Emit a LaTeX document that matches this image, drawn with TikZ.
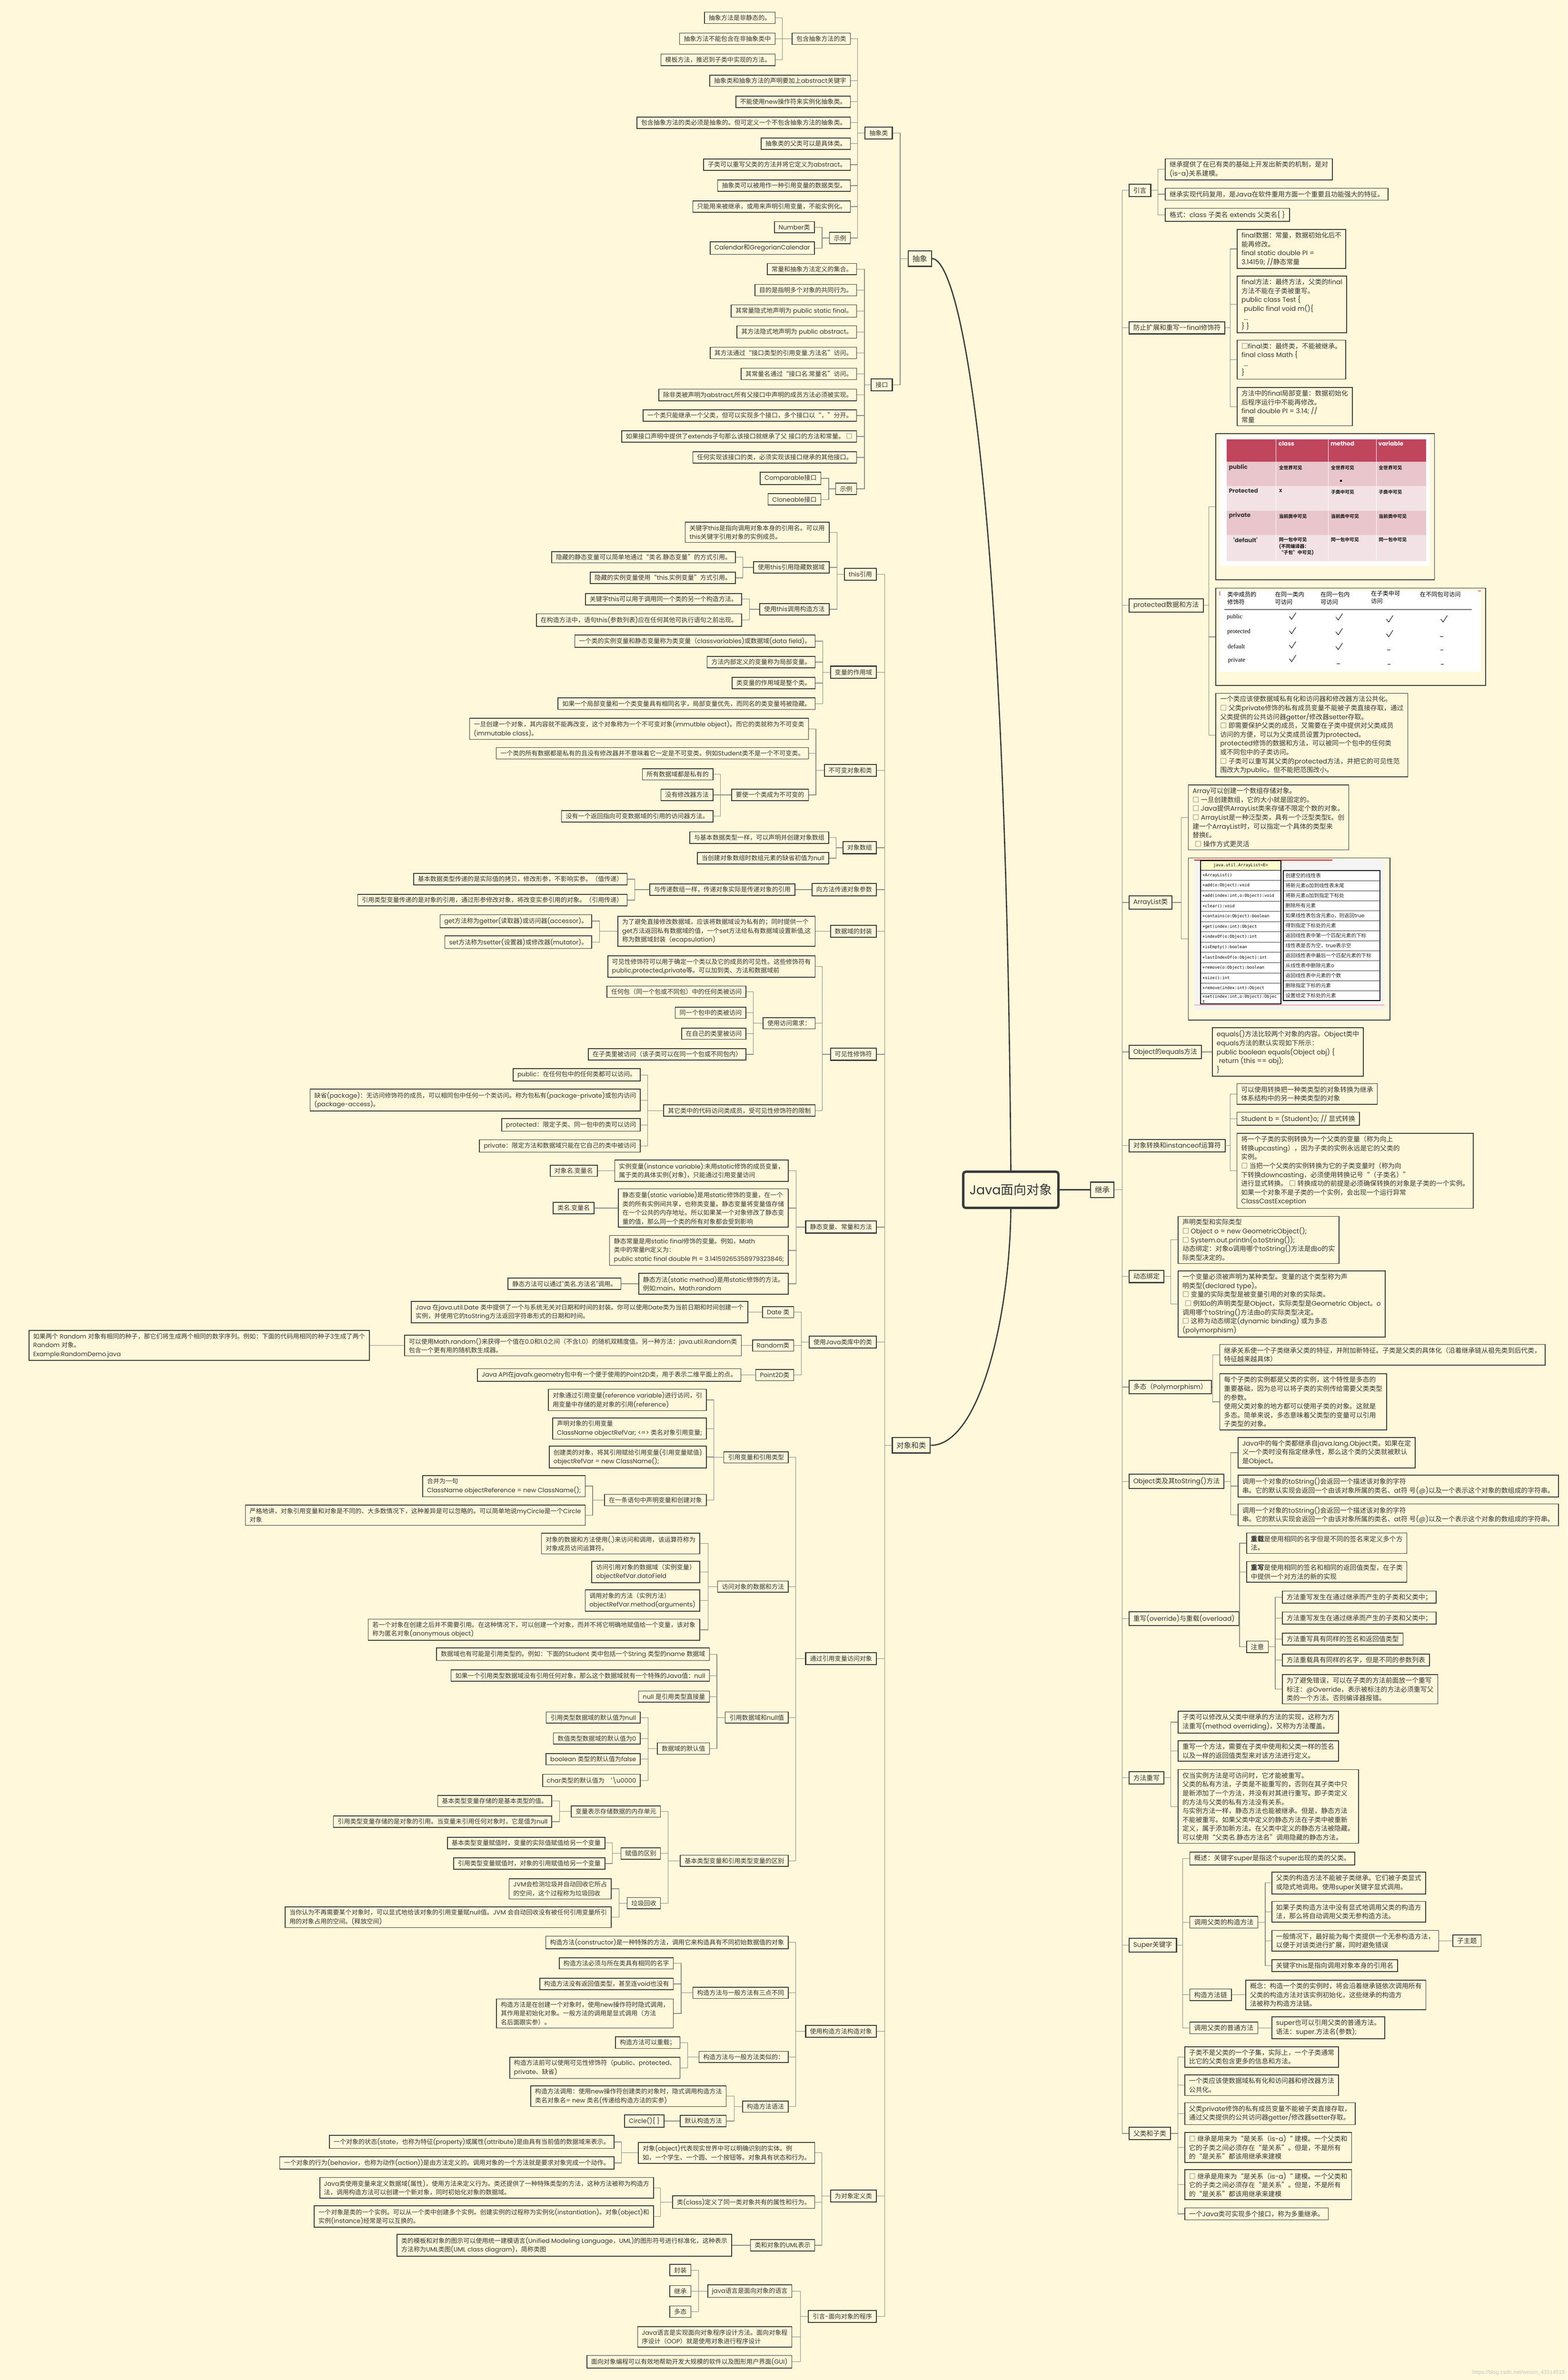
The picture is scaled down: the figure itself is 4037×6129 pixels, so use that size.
\documentclass[tikz,border=0pt]{standalone}
\usepackage{fontspec}
\setmainfont{Poppins}
\newfontfamily\cjkf{Noto Sans CJK SC}
\newfontfamily\latf{Poppins}
\newfontfamily\monof{DejaVu Sans Mono}
\newfontfamily\serf{Liberation Serif}
\newfontfamily\wmf{Liberation Sans}
\XeTeXinterchartokenstate=1
\newXeTeXintercharclass\cjkc
\newcount\mycnt
\mycnt="2E80
\loop
  \XeTeXcharclass\mycnt=\cjkc
  \advance\mycnt by 1
\ifnum\mycnt<"A000 \repeat
\mycnt="FF00
\loop
  \XeTeXcharclass\mycnt=\cjkc
  \advance\mycnt by 1
\ifnum\mycnt<"FFF0 \repeat
\XeTeXcharclass"25A1=\cjkc
\XeTeXcharclass"2018=\cjkc
\XeTeXcharclass"2019=\cjkc
\XeTeXcharclass"201C=\cjkc
\XeTeXcharclass"201D=\cjkc
\XeTeXinterchartoks 0 \cjkc = {\cjkf}
\XeTeXinterchartoks 4095 \cjkc = {\cjkf}
\XeTeXinterchartoks \cjkc 0 = {\latf}
\XeTeXinterchartoks \cjkc 4095 = {\latf}
\definecolor{bgc}{HTML}{FFF8DA}
\definecolor{boxc}{HTML}{3D3D3D}
\definecolor{txtc}{HTML}{363636}
\definecolor{cnc}{HTML}{8A8A8A}
\definecolor{mainc}{HTML}{3A3A3A}
\definecolor{rosec}{HTML}{C0455D}
\definecolor{pinka}{HTML}{E8C6CC}
\definecolor{pinkb}{HTML}{F3E2E5}
\definecolor{paleyel}{HTML}{FFFFCC}
\definecolor{imgbg}{HTML}{F4F4F4}
\tikzset{
  bx/.style={draw=boxc,line width=1pt,text=txtc,inner xsep=5.5pt,inner ysep=3.6pt,align=left,font=\fontsize{8}{11.3}\selectfont},
  lf/.style={bx,anchor=east},
  rf/.style={bx,anchor=west,font=\fontsize{8.5}{11.4}\selectfont},
  md/.style={line width=1.3pt,inner ysep=4pt},
  top/.style={line width=1.4pt,inner ysep=5.5pt,font=\fontsize{9.5}{11}\selectfont},
  cn/.style={draw=cnc,line width=0.75pt},
  mainln/.style={draw=mainc,line width=1.6pt},
  cell/.style={inner sep=0pt,anchor=north west,align=left},
}
\newcommand{\mLN}[5][]{\node[lf,#1] (#2) at (#3,#4) {#5};}
\newcommand{\mRN}[5][]{\node[rf,#1] (#2) at (#3,#4) {#5};}
\newcommand{\mLC}[3]{\draw[cn] (#1.west) -- (#3,0 |- #1.west) |- (#2.east);}
\newcommand{\mRC}[3]{\draw[cn] (#1.east) -- (#3,0 |- #1.east) |- (#2.west);}
\newcommand{\mchk}[2]{\draw[black,line width=0.6pt,shift={(#1,#2)}] (-8,-1) -- (-2,7) -- (9,-10);}
\newcommand{\mdash}[2]{\draw[black,line width=0.5pt,shift={(#1,#2)}] (-4,9) -- (4,9);}
\begin{document}
\begin{tikzpicture}[x=0.5pt,y=-0.5pt]
\useasboundingbox (0,0) rectangle (4037,6129);
\fill[bgc] (0,0) rectangle (4037,6129);

% ---------- main nodes
\node[draw=mainc,line width=3pt,rounded corners=3pt,text=txtc,font=\fontsize{16.5}{20}\selectfont,minimum width=122.5pt,minimum height=46.5pt,inner sep=2pt] (root) at (2603,3064) {Java面向对象};
\node[bx,top,anchor=east] (cx) at (2400,666) {抽象};
\node[bx,top,anchor=east] (dx) at (2397,3722) {对象和类};
\node[bx,top,anchor=west] (jc) at (2807,3064) {继承};
\draw[mainln] (cx.east) .. controls (2470,666) and (2590,1200) .. (root.north);
\draw[mainln] (root.south) .. controls (2600,3400) and (2520,3722) .. (dx.east);
\draw[mainln] (root.east) -- (jc.west);

% ---------- 抽象
\mLN[md]{cxl}{2299}{343}{抽象类}
\mLN[md]{jk}{2299}{991}{接口}
\mLC{cx}{cxl}{2318} \mLC{cx}{jk}{2318}
\mLN{a1}{2191}{100}{包含抽象方法的类}
\mLN{a1a}{1997}{46}{抽象方法是非静态的。}
\mLN{a1b}{1997}{100}{抽象方法不能包含在非抽象类中}
\mLN{a1c}{1997}{154}{模板方法，推迟到子类中实现的方法。}
\mLN{a2}{2191}{208}{抽象类和抽象方法的声明要加上abstract关键字}
\mLN{a3}{2191}{262}{不能使用new操作符来实例化抽象类。}
\mLN{a4}{2191}{316}{包含抽象方法的类必须是抽象的。但可定义一个不包含抽象方法的抽象类。}
\mLN{a5}{2191}{370}{抽象类的父类可以是具体类。}
\mLN{a6}{2191}{424}{子类可以重写父类的方法并将它定义为abstract。}
\mLN{a7}{2191}{478}{抽象类可以被用作一种引用变量的数据类型。}
\mLN{a8}{2191}{532}{只能用来被继承，或用来声明引用变量，不能实例化。}
\mLN{a9}{2191}{613}{示例}
\mLN{a9a}{2098}{585}{Number类}
\mLN{a9b}{2098}{639}{Calendar和GregorianCalendar}
\foreach \c in {a1,a2,a3,a4,a5,a6,a7,a8,a9} {\mLC{cxl}{\c}{2208}}
\foreach \c in {a1a,a1b,a1c} {\mLC{a1}{\c}{2015}}
\mLC{a9}{a9a}{2117} \mLC{a9}{a9b}{2117}

\mLN{j1}{2207}{693}{常量和抽象方法定义的集合。}
\mLN{j2}{2207}{747}{目的是指明多个对象的共同行为。}
\mLN{j3}{2207}{801}{其常量隐式地声明为 public static final。}
\mLN{j4}{2207}{855}{其方法隐式地声明为 public abstract。}
\mLN{j5}{2207}{909}{其方法通过“接口类型的引用变量.方法名”访问。}
\mLN{j6}{2207}{963}{其常量名通过“接口名.常量名”访问。}
\mLN{j7}{2207}{1017}{除非类被声明为abstract,所有父接口中声明的成员方法必须被实现。}
\mLN{j8}{2207}{1070}{一个类只能继承一个父类，但可以实现多个接口，多个接口以“，”分开。}
\mLN{j9}{2207}{1124}{如果接口声明中提供了extends子句那么该接口就继承了父 接口的方法和常量。 □}
\mLN{j10}{2207}{1178}{任何实现该接口的类，必须实现该接口继承的其他接口。}
\mLN{j11}{2207}{1259}{示例}
\mLN{j11a}{2115}{1232}{Comparable接口}
\mLN{j11b}{2115}{1286}{Cloneable接口}
\foreach \c in {j1,j2,j3,j4,j5,j6,j7,j8,j9,j10,j11} {\mLC{jk}{\c}{2226}}
\mLC{j11}{j11a}{2134} \mLC{j11}{j11b}{2134}

% ---------- 对象和类
\mLN[md]{o1}{2258}{1479}{this引用}
\mLN[md]{o2}{2258}{1731}{变量的作用域}
\mLN[md]{o3}{2258}{1984}{不可变对象和类}
\mLN[md]{o4}{2258}{2183}{对象数组}
\mLN[md]{o5}{2258}{2291}{向方法传递对象参数}
\mLN[md]{o6}{2258}{2398}{数据域的封装}
\mLN[md]{o7}{2258}{2715}{可见性修饰符}
\mLN[md]{o8}{2258}{3160}{静态变量、常量和方法}
\mLN[md]{o9}{2258}{3456}{使用Java类库中的类}
\mLN[md]{o10}{2258}{4271}{通过引用变量访问对象}
\mLN[md]{o11}{2258}{5231}{使用构造方法构造对象}
\mLN[md]{o12}{2258}{5655}{为对象定义类}
\mLN[md]{o13}{2258}{5965}{引言-面向对象的程序}
\foreach \c in {o1,o2,o3,o4,o5,o6,o7,o8,o9,o10,o11,o12,o13} {\mLC{dx}{\c}{2278}}

\mLN{o1a}{2136}{1371}{关键字this是指向调用对象本身的引用名。可以用\\this关键字引用对象的实例成员。}
\mLN{o1b}{2136}{1461}{使用this引用隐藏数据域}
\mLN{o1b1}{1895}{1435}{隐藏的静态变量可以简单地通过“类名.静态变量”的方式引用。}
\mLN{o1b2}{1895}{1488}{隐藏的实例变量使用“this.实例变量”方式引用。}
\mLN{o1c}{2136}{1569}{使用this调用构造方法}
\mLN{o1c1}{1911}{1543}{关键字this可以用于调用同一个类的另一个构造方法。}
\mLN{o1c2}{1911}{1597}{在构造方法中，语句this(参数列表)应在任何其他可执行语句之前出现。}
\foreach \c in {o1a,o1b,o1c} {\mLC{o1}{\c}{2156}}
\mLC{o1b}{o1b1}{1913} \mLC{o1b}{o1b2}{1913}
\mLC{o1c}{o1c1}{1930} \mLC{o1c}{o1c2}{1930}

\mLN{o2a}{2100}{1651}{一个类的实例变量和静态变量称为类变量（classvariables)或数据域(data field)。}
\mLN{o2b}{2100}{1705}{方法内部定义的变量称为局部变量。}
\mLN{o2c}{2100}{1759}{类变量的作用域是整个类。}
\mLN{o2d}{2100}{1812}{如果一个局部变量和一个类变量具有相同名字，局部变量优先，而同名的类变量将被隐藏。}
\foreach \c in {o2a,o2b,o2c,o2d} {\mLC{o2}{\c}{2119}}

\mLN{o3a}{2083}{1877}{一旦创建一个对象，其内容就不能再改变，这个对象称为一个不可变对象(immutble object)。而它的类就称为不可变类\\(immutable class)。}
\mLN{o3b}{2083}{1940}{一个类的所有数据都是私有的且没有修改器并不意味着它一定是不可变类。例如Student类不是一个不可变类。}
\mLN{o3c}{2083}{2047}{要使一个类成为不可变的}
\mLN{o3c1}{1837}{1994}{所有数据域都是私有的}
\mLN{o3c2}{1837}{2047}{没有修改器方法}
\mLN{o3c3}{1837}{2102}{没有一个返回指向可变数据域的引用的访问器方法。}
\foreach \c in {o3a,o3b,o3c} {\mLC{o3}{\c}{2101}}
\foreach \c in {o3c1,o3c2,o3c3} {\mLC{o3c}{\c}{1855}}

\mLN{o4a}{2135}{2157}{与基本数据类型一样，可以声明并创建对象数组}
\mLN{o4b}{2135}{2210}{当创建对象数组时数组元素的缺省初值为null}
\mLC{o4}{o4a}{2153} \mLC{o4}{o4b}{2153}

\mLN{o5a}{2048}{2291}{与传递数组一样，传递对象实际是传递对象的引用}
\mLN{o5a1}{1616}{2264}{基本数据类型传递的是实际值的拷贝，修改形参，不影响实参。（值传递）}
\mLN{o5a2}{1616}{2318}{引用类型变量传递的是对象的引用，通过形参修改对象，将改变实参引用的对象。（引用传递）}
\draw[cn] (o5.west) -- (o5a.east);
\mLC{o5a}{o5a1}{1635} \mLC{o5a}{o5a2}{1635}

\mLN{o6a}{2100}{2398}{为了避免直接修改数据域，应该将数据域设为私有的；同时提供一个\\get方法返回私有数据域的值，一个set方法给私有数据域设置新值,这\\称为数据域封装（ecapsulation)}
\mLN{o6a1}{1525}{2372}{get方法称为getter(读取器)或访问器(accessor)。}
\mLN{o6a2}{1525}{2426}{set方法称为setter(设置器)或修改器(mutator)。}
\draw[cn] (o6.west) -- (o6a.east);
\mLC{o6a}{o6a1}{1544} \mLC{o6a}{o6a2}{1544}

\mLN{o7a}{2100}{2489}{可见性修饰符可以用于确定一个类以及它的成员的可见性。这些修饰符有\\public,protected,private等。可以加到类、方法和数据域前}
\mLN{o7b}{2100}{2635}{使用访问需求：}
\mLN{o7b1}{1922}{2554}{任何包（同一个包或不同包）中的任何类被访问}
\mLN{o7b2}{1922}{2608}{同一个包中的类被访问}
\mLN{o7b3}{1922}{2662}{在自己的类里被访问}
\mLN{o7b4}{1922}{2715}{在子类里被访问（该子类可以在同一个包或不同包内）}
\mLN{o7c}{2100}{2860}{其它类中的代码访问类成员，受可见性修饰符的限制}
\mLN{o7c1}{1650}{2768}{public：在任何包中的任何类都可以访问。}
\mLN{o7c2}{1650}{2833}{缺省(package)：无访问修饰符的成员，可以相同包中任何一个类访问。称为包私有(package-private)或包内访问\\(package-access)。}
\mLN{o7c3}{1650}{2897}{protected：限定子类、同一包中的类可以访问}
\mLN{o7c4}{1650}{2951}{private：限定方法和数据域只能在它自己的类中被访问}
\foreach \c in {o7a,o7b,o7c} {\mLC{o7}{\c}{2118}}
\foreach \c in {o7b1,o7b2,o7b3,o7b4} {\mLC{o7b}{\c}{1940}}
\foreach \c in {o7c1,o7c2,o7c3,o7c4} {\mLC{o7c}{\c}{1668}}

\mLN{o8a}{2031}{3015}{实例变量(instance variable):未用static修饰的成员变量，\\属于类的具体实例(对象)，只能通过引用变量访问}
\mLN{o8a1}{1539}{3015}{对象名.变量名}
\mLN{o8b}{2031}{3111}{静态变量(static variable)是用static修饰的变量，在一个\\类的所有实例间共享，也称类变量。静态变量将变量值存储\\在一个公共的内存地址。所以如果某一个对象修改了静态变\\量的值，那么同一个类的所有对象都会受到影响}
\mLN{o8b1}{1531}{3111}{类名.变量名}
\mLN{o8c}{2031}{3220}{静态常量是用static final修饰的变量。例如，Math\\类中的常量PI定义为：\\public static final double PI = 3.14159265358979323846;}
\mLN{o8d}{2031}{3306}{静态方法(static method)是用static修饰的方法。\\例如:main，Math.random}
\mLN{o8d1}{1600}{3306}{静态方法可以通过"类名.方法名"调用。}
\foreach \c in {o8a,o8b,o8c,o8d} {\mLC{o8}{\c}{2050}}
\draw[cn] (o8a.west) -- (o8a1.east);
\draw[cn] (o8b.west) -- (o8b1.east);
\draw[cn] (o8d.west) -- (o8d1.east);

\mLN{o9a}{2045}{3379}{Date 类}
\mLN{o9a1}{1927}{3379}{Java 在java.util.Date 类中提供了一个与系统无关对日期和时间的封装。你可以使用Date类为当前日期和时间创建一个\\实例，并使用它的toString方法返回字符串形式的日期和时间。}
\mLN{o9b}{2045}{3465}{Random类}
\mLN{o9b1}{1910}{3465}{可以使用Math.random()来获得一个值在0.0和1.0之间（不含1.0）的随机双精度值。另一种方法：java.util.Random类\\包含一个更有用的随机数生成器。}
\mLN{o9b2}{952}{3465}{如果两个 Random 对象有相同的种子，那它们将生成两个相同的数字序列。例如：下面的代码用相同的种子3生成了两个\\Random 对象。\\Example:RandomDemo.java}
\mLN{o9c}{2045}{3541}{Point2D类}
\mLN{o9c1}{1909}{3541}{Java API在javafx.geometry包中有一个便于使用的Point2D类，用于表示二维平面上的点。}
\foreach \c in {o9a,o9b,o9c} {\mLC{o9}{\c}{2064}}
\draw[cn] (o9a.west) -- (o9a1.east);
\draw[cn] (o9b.west) -- (o9b1.east);
\draw[cn] (o9b1.west) -- (o9b2.east);
\draw[cn] (o9c.west) -- (o9c1.east);

\mLN{o10a}{2031}{3753}{引用变量和引用类型}
\mLN{o10a1}{1820}{3605}{对象通过引用变量(reference variable)进行访问，引\\用变量中存储的是对象的引用(reference)}
\mLN{o10a2}{1820}{3679}{声明对象的引用变量\\ClassName objectRefVar; <=> 类名对象引用变量;}
\mLN{o10a3}{1820}{3752}{创建类的对象，将其引用赋给引用变量(引用变量赋值)\\objectRefVar = new ClassName();}
\mLN{o10a4}{1820}{3863}{在一条语句中声明变量和创建对象}
\mLN{o10a4a}{1508}{3827}{合并为一句\\ClassName objectReference = new ClassName();}
\mLN{o10a4b}{1508}{3902}{严格地讲，对象引用变量和对象是不同的、大多数情况下，这种差异是可以忽略的。可以简单地说myCircle是一个Circle\\对象}
\mLN{o10b}{2031}{4086}{访问对象的数据和方法}
\mLN{o10b1}{1803}{3975}{对象的数据和方法使用(.)来访问和调用，该运算符称为\\对象成员访问运算符。}
\mLN{o10b2}{1803}{4048}{访问引用对象的数据域（实例变量）\\objectRefVar.dataField}
\mLN{o10b3}{1803}{4122}{调用对象的方法（实例方法）\\objectRefVar.method(arguments)}
\mLN{o10b4}{1803}{4197}{若一个对象在创建之后并不需要引用。在这种情况下，可以创建一个对象，而并不将它明确地赋值给一个变量，该对象\\称为匿名对象(anonymous object)}
\mLN{o10c}{2031}{4423}{引用数据域和null值}
\mLN{o10c1}{1828}{4260}{数据域也有可能是引用类型的。例如：下面的Student 类中包括一个String 类型的name 数据域}
\mLN{o10c2}{1828}{4315}{如果一个引用类型数据域没有引用任何对象，那么这个数据域就有一个特殊的Java值：null}
\mLN{o10c3}{1828}{4369}{null 是引用类型直接量}
\mLN{o10c4}{1828}{4503}{数据域的默认值}
\mLN{o10c4a}{1650}{4423}{引用类型数据域的默认值为null}
\mLN{o10c4b}{1650}{4477}{数值类型数据域的默认值为0}
\mLN{o10c4c}{1650}{4530}{boolean 类型的默认值为false}
\mLN{o10c4d}{1650}{4585}{char类型的默认值为 ‘\textbackslash u0000}
\mLN{o10d}{2031}{4792}{基本类型变量和引用类型变量的区别}
\mLN{o10d1}{1702}{4665}{变量表示存储数据的内存单元}
\mLN{o10d1a}{1422}{4638}{基本类型变量存储的是基本类型的值。}
\mLN{o10d1b}{1422}{4691}{引用类型变量存储的是对象的引用。当变量未引用任何对象时，它是值为null}
\mLN{o10d2}{1702}{4773}{赋值的区别}
\mLN{o10d2a}{1559}{4746}{基本类型变量赋值时，变量的实际值赋值给另一个变量}
\mLN{o10d2b}{1559}{4799}{引用类型变量赋值时，对象的引用赋值给另一个变量}
\mLN{o10d3}{1702}{4901}{垃圾回收}
\mLN{o10d3a}{1575}{4864}{JVM会检测垃圾并自动回收它所占\\的空间，这个过程称为垃圾回收}
\mLN{o10d3b}{1575}{4937}{当你认为不再需要某个对象时，可以显式地给该对象的引用变量赋null值。JVM 会自动回收没有被任何引用变量所引\\用的对象占用的空间。(释放空间)}
\foreach \c in {o10a,o10b,o10c,o10d} {\mLC{o10}{\c}{2049}}
\foreach \c in {o10a1,o10a2,o10a3,o10a4} {\mLC{o10a}{\c}{1838}}
\mLC{o10a4}{o10a4a}{1526} \mLC{o10a4}{o10a4b}{1526}
\foreach \c in {o10b1,o10b2,o10b3,o10b4} {\mLC{o10b}{\c}{1823}}
\foreach \c in {o10c1,o10c2,o10c3,o10c4} {\mLC{o10c}{\c}{1846}}
\foreach \c in {o10c4a,o10c4b,o10c4c,o10c4d} {\mLC{o10c4}{\c}{1669}}
\foreach \c in {o10d1,o10d2,o10d3} {\mLC{o10d}{\c}{1720}}
\mLC{o10d1}{o10d1a}{1441} \mLC{o10d1}{o10d1b}{1441}
\mLC{o10d2}{o10d2a}{1577} \mLC{o10d2}{o10d2b}{1577}
\mLC{o10d3}{o10d3a}{1594} \mLC{o10d3}{o10d3b}{1594}

\mLN{o11a}{2031}{5002}{构造方法(constructor)是一种特殊的方法，调用它来构造具有不同初始数据值的对象}
\mLN{o11b}{2031}{5132}{构造方法与一般方法有三点不同}
\mLN{o11b1}{1735}{5056}{构造方法必须与所在类具有相同的名字}
\mLN{o11b2}{1735}{5109}{构造方法没有返回值类型，甚至连void也没有}
\mLN{o11b3}{1735}{5185}{构造方法是在创建一个对象时，使用new操作符时隐式调用，\\其作用是初始化对象。一般方法的调用是显式调用（方法\\名后面跟实参）。}
\mLN{o11c}{2031}{5297}{构造方法与一般方法类似的：}
\mLN{o11c1}{1752}{5260}{构造方法可以重载；}
\mLN{o11c2}{1752}{5325}{构造方法前可以使用可见性修饰符（public、protected、\\private、缺省)}
\mLN{o11d}{2031}{5425}{构造方法语法}
\mLN{o11d1}{1871}{5398}{构造方法调用：使用new操作符创建类的对象时，隐式调用构造方法\\类名对象名= new 类名(传递给构造方法的实参)}
\mLN{o11d2}{1871}{5462}{默认构造方法}
\mLN{o11d2a}{1711}{5462}{Circle()\{ \}}
\foreach \c in {o11a,o11b,o11c,o11d} {\mLC{o11}{\c}{2049}}
\foreach \c in {o11b1,o11b2,o11b3} {\mLC{o11b}{\c}{1754}}
\mLC{o11c}{o11c1}{1771} \mLC{o11c}{o11c2}{1771}
\mLC{o11d}{o11d1}{1891} \mLC{o11d}{o11d2}{1891}
\draw[cn] (o11d2.west) -- (o11d2a.east);

\mLN{o12a}{2099}{5544}{对象(object)代表现实世界中可以明确识别的实体。例\\如，一个学生、一个圆、一个按钮等。对象具有状态和行为。}
\mLN{o12a1}{1582}{5516}{一个对象的状态(state，也称为特征(property)或属性(attribute)是由具有当前值的数据域来表示。}
\mLN{o12a2}{1582}{5570}{一个对象的行为(behavior，也称为动作(action))是由方法定义的。调用对象的一个方法就是要求对象完成一个动作。}
\mLN{o12b}{2099}{5671}{类(class)定义了同一类对象共有的属性和行为。}
\mLN{o12b1}{1684}{5634}{Java类使用变量来定义数据域(属性)，使用方法来定义行为。类还提供了一种特殊类型的方法，这种方法被称为构造方\\法，调用构造方法可以创建一个新对象，同时初始化对象的数据域。}
\mLN{o12b2}{1684}{5708}{一个对象是类的一个实例。可以从一个类中创建多个实例。创建实例的过程称为实例化(instantiation)。对象(object)和\\实例(instance)经常是可以互换的。}
\mLN{o12c}{2099}{5782}{类和对象的UML表示}
\mLN{o12c1}{1885}{5782}{类的模板和对象的图示可以使用统一建模语言(Unified Modeling Language，UML)的图形符号进行标准化，这种表示\\方法称为UML类图(UML class diagram)，简称类图}
\foreach \c in {o12a,o12b,o12c} {\mLC{o12}{\c}{2116}}
\mLC{o12a}{o12a1}{1600} \mLC{o12a}{o12a2}{1600}
\mLC{o12b}{o12b1}{1701} \mLC{o12b}{o12b2}{1701}
\draw[cn] (o12c.west) -- (o12c1.east);

\mLN{o13a}{2040}{5900}{java语言是面向对象的语言}
\mLN{o13a1}{1780}{5846}{封装}
\mLN{o13a2}{1780}{5900}{继承}
\mLN{o13a3}{1780}{5953}{多态}
\mLN{o13b}{2040}{6018}{Java语言是实现面向对象程序设计方法。面向对象程\\序设计（OOP）就是使用对象进行程序设计}
\mLN{o13c}{2040}{6082}{面向对象编程可以有效地帮助开发大规模的软件以及图形用户界面(GUI)}
\foreach \c in {o13a,o13b,o13c} {\mLC{o13}{\c}{2061}}
\foreach \c in {o13a1,o13a2,o13a3} {\mLC{o13a}{\c}{1799}}

% ---------- 继承 (right)
\mRN[md]{r1}{2906}{490}{引言}
\mRN[md]{r2}{2906}{844}{防止扩展和重写-{}-final修饰符}
\mRN[md]{r3}{2906}{1559}{protected数据和方法}
\mRN[md]{r4}{2906}{2324}{ArrayList类}
\mRN[md]{r5}{2906}{2709}{Object的equals方法}
\mRN[md]{r6}{2906}{2950}{对象转换和instanceof运算符}
\mRN[md]{r7}{2906}{3287}{动态绑定}
\mRN[md]{r8}{2906}{3572}{多态（Polymorphism）}
\mRN[md]{r9}{2906}{3815}{Object类及其toString()方法}
\mRN[md]{r10}{2906}{4168}{重写(override)与重载(overload)}
\mRN[md]{r11}{2906}{4578}{方法重写}
\mRN[md]{r12}{2906}{5009}{Super关键字}
\mRN[md]{r13}{2906}{5494}{父类和子类}
\foreach \c in {r1,r2,r3,r4,r5,r6,r7,r8,r9,r10,r11,r12,r13} {\mRC{jc}{\c}{2890}}

\mRN{r1a}{3000}{436}{继承提供了在已有类的基础上开发出新类的机制，是对\\(is-a)关系建模。}
\mRN{r1b}{3000}{500}{继承实现代码复用，是Java在软件重用方面一个重要且功能强大的特征。}
\mRN{r1c}{3000}{553}{格式：class 子类名 extends 父类名\{ \}}
\foreach \c in {r1a,r1b,r1c} {\mRC{r1}{\c}{2982}}

\mRN{r2a}{3185}{641}{final数据：常量，数据初始化后不\\能再修改。\\final static double PI =\\3.14159; //静态常量}
\mRN{r2b}{3185}{784}{final方法：最终方法，父类的final\\方法不能在子类被重写。\\public class Test \{\\\hspace*{3pt}public final void m()\{\\\hspace*{3pt}...\\\} \}}
\mRN{r2c}{3185}{926}{□final类：最终类，不能被继承。\\final class Math \{\\\hspace*{3pt}...\\\}}
\mRN{r2d}{3185}{1047}{方法中的final局部变量：数据初始化\\后程序运行中不能再修改。\\final double PI = 3.14; //\\常量}
\foreach \c in {r2a,r2b,r2c,r2d} {\mRC{r2}{\c}{3168}}

% table 1
\node[draw=boxc,line width=1pt,minimum width=281.5pt,minimum height=188pt,inner sep=0pt,anchor=west] (t1) at (3130,1305) {};
\fill[white] (3140,1121) rectangle (3682,1457);
\fill[rosec] (3159,1131) rectangle (3672,1189);
\fill[pinka] (3159,1189) rectangle (3672,1252);
\fill[pinkb] (3159,1252) rectangle (3672,1315);
\fill[pinka] (3159,1315) rectangle (3672,1378);
\fill[pinkb] (3159,1378) rectangle (3672,1445);
\foreach \xx in {3286,3421,3544} {\draw[white,line width=0.7pt] (\xx,1131) -- (\xx,1445);}
\begin{scope}[every node/.style={cell,text=white,font=\fontsize{7.5}{9}\selectfont\bfseries}]
\node at (3292,1136) {class}; \node at (3426,1136) {method}; \node at (3549,1136) {variable};
\end{scope}
\begin{scope}[every node/.style={cell,text=txtc,font=\fontsize{7.5}{9}\selectfont\bfseries}]
\node at (3164,1196) {public}; \node at (3164,1258) {Protected}; \node at (3164,1320) {private}; \node at (3164,1383) {‘default’};
\end{scope}
\begin{scope}[every node/.style={cell,text=black!85,font=\fontsize{6}{8.2}\selectfont\bfseries}]
\node at (3293,1199) {全世界可见}; \node at (3427,1199) {全世界可见}; \node at (3550,1199) {全世界可见};
\node at (3293,1259) {X}; \node at (3427,1261) {子类中可见}; \node at (3550,1261) {子类中可见};
\node at (3293,1323) {当前类中可见}; \node at (3427,1323) {当前类中可见}; \node at (3550,1323) {当前类中可见};
\node at (3293,1384) {同一包中可见\\(不同编译器：\\“子包”中可见)}; \node at (3427,1384) {同一包中可见}; \node at (3550,1384) {同一包中可见};
\end{scope}
\fill[black] (3451,1236) rectangle (3455,1240);

% table 2
\node[draw=boxc,line width=1pt,minimum width=347.5pt,minimum height=125.5pt,inner sep=0pt,anchor=west] (t2) at (3130,1640) {};
\fill[white] (3139,1521) rectangle (3813,1730);
\draw[red,line width=0.8pt] (3141,1522) -- (3141,1533);
\draw[red,line width=0.8pt] (3806,1522) -- (3814,1522);
\begin{scope}[every node/.style={cell,text=black,font=\fontsize{7.5}{10}\selectfont}]
\node at (3160,1523) {类中成员的\\修饰符}; \node at (3283,1523) {在同一类内\\可访问}; \node at (3400,1523) {在同一包内\\可访问};
\node at (3530,1521) {在子类中可\\访问}; \node at (3656,1523) {在不同包可访问};
\end{scope}
\draw[black,line width=0.8pt] (3153,1570) -- (3790,1570);
\begin{scope}[every node/.style={inner sep=0pt,anchor=west,text=black,font=\serf\fontsize{8}{9}\selectfont}]
\node at (3159,1589) {public}; \node at (3160,1627) {protected}; \node at (3161,1664) {default}; \node at (3162,1701) {private};
\end{scope}
\mchk{3328}{1588} \mchk{3448}{1590} \mchk{3578}{1595} \mchk{3718}{1595}
\mchk{3328}{1625} \mchk{3448}{1628} \mchk{3578}{1633} \mdash{3712}{1630}
\mchk{3328}{1662} \mchk{3448}{1666} \mdash{3576}{1665} \mdash{3713}{1665}
\mchk{3328}{1697} \mdash{3446}{1700} \mdash{3577}{1701} \mdash{3714}{1701}

\mRN{r3c}{3130}{1893}{一个类应该使数据域私有化和访问器和修改器方法公共化。\\□ 父类private修饰的私有成员变量不能被子类直接存取，通过\\父类提供的公共访问器getter/修改器setter存取。\\□ 即需要保护父类的成员，又需要在子类中提供对父类成员\\访问的方便，可以为父类成员设置为protected。\\protected修饰的数据和方法，可以被同一个包中的任何类\\或不同包中的子类访问。\\□ 子类可以重写其父类的protected方法，并把它的可见性范\\围改大为public。但不能把范围改小。}
\foreach \c in {t1,t2,r3c} {\mRC{r3}{\c}{3113}}

\mRN{r4a}{3059}{2105}{Array可以创建一个数组存储对象。\\□ 一旦创建数组，它的大小就是固定的。\\□ Java提供ArrayList类来存储不限定个数的对象。\\□ ArrayList是一种泛型类，具有一个泛型类型E。创\\建一个ArrayList时，可以指定一个具体的类型来\\替换E。\\\hspace*{3pt}□ 操作方式更灵活}
% ArrayList image
\node[draw=boxc,line width=1pt,minimum width=259.5pt,minimum height=208.5pt,inner sep=0pt,anchor=west] (r4b) at (3059,2418) {};
\fill[imgbg] (3075,2214) rectangle (3566,2600);
\draw[red!85!black,line width=1.3pt] (3076,2215) -- (3431,2215);
\draw[red!60,line width=0.5pt] (3076,2588) -- (3565,2588);
\fill[paleyel] (3092,2216) rectangle (3299,2241);
\fill[white] (3092,2241) rectangle (3299,2585);
\foreach \i in {1,...,12} {\draw[black!75,line width=0.5pt] (3092,{2241+\i*26.46}) -- (3299,{2241+\i*26.46});}
\draw[black,line width=0.6pt] (3092,2241) -- (3299,2241);
\draw[black,line width=1.2pt] (3092,2216) rectangle (3299,2585);
\node[inner sep=0pt,font=\monof\fontsize{5.3}{6}\selectfont] at (3195,2229) {java.util.ArrayList<E>};
\foreach \t [count=\i] in {{+ArrayList()},{+add(o:Object):void},{+add(index:int,o:Object):void},{+clear():void},{+contains(o:Object):boolean},{+get(index:int):Object},{+indexOf(o:Object):int},{+isEmpty():boolean},{+lastIndexOf(o:Object):int},{+remove(o:Object):boolean},{+size():int},{+remove(index:int):Object}}
  {\node[inner sep=0pt,anchor=west,font=\monof\fontsize{5.3}{6}\selectfont] at (3096,{2241+(\i-0.5)*26.46}) {\t};}
\node[inner sep=0pt,anchor=north west,align=left,font=\monof\fontsize{5.3}{6.6}\selectfont] at (3096,{2241+12*26.46+3}) {+set(index:int,o:Object):Objec\\t};
\fill[white] (3305,2242) rectangle (3553,2577);
\foreach \i in {1,...,12} {\draw[black!75,line width=0.5pt] (3305,{2242+\i*25.77}) -- (3553,{2242+\i*25.77});}
\draw[black,line width=1.2pt] (3305,2242) rectangle (3553,2577);
\foreach \t [count=\i] in {{创建空的线性表},{将新元素o加到线性表末尾},{将新元素o加到指定下标处},{删除所有元素},{如果线性表包含元素o，则返回true},{得到指定下标处的元素},{返回线性表中第一个匹配元素的下标},{线性表是否为空，true表示空},{返回线性表中最后一个匹配元素的下标},{从线性表中删除元素o},{返回线性表中元素的个数},{删除指定下标的元素},{设置给定下标处的元素}}
  {\node[inner sep=0pt,anchor=west,text=black!85,font=\fontsize{6.5}{7}\selectfont] at (3310,{2242+(\i-0.5)*25.77}) {\t};}
\mRC{r4}{r4a}{3042} \mRC{r4}{r4b}{3042}

\mRN{r5a}{3121}{2709}{equals()方法比较两个对象的内容。Object类中\\equals方法的默认实现如下所示：\\public boolean equals(Object obj) \{\\\hspace*{3pt}return (this == obj);\\\}}
\draw[cn] (r5.east) -- (r5a.west);

\mRN{r6a}{3184}{2817}{可以使用转换把一种类类型的对象转换为继承\\体系结构中的另一种类类型的对象}
\mRN{r6b}{3184}{2881}{Student b = (Student)o; // 显式转换}
\mRN{r6c}{3184}{3015}{将一个子类的实例转换为一个父类的变量（称为向上\\转换upcasting），因为子类的实例永远是它的父类的\\实例。\\□ 当把一个父类的实例转换为它的子类变量时（称为向\\下转换downcasting，必须使用转换记号“（子类名）”\\进行显式转换。 □ 转换成功的前提是必须确保转换的对象是子类的一个实例。\\如果一个对象不是子类的一个实例，会出现一个运行异常\\ClassCastException}
\foreach \c in {r6a,r6b,r6c} {\mRC{r6}{\c}{3168}}

\mRN{r7a}{3033}{3193}{声明类型和实际类型\\□ Object o = new GeometricObject();\\□ System.out.println(o.toString());\\动态绑定：对象o调用哪个toString()方法是由o的实\\际类型决定的。}
\mRN{r7b}{3033}{3358}{一个变量必须被声明为某种类型。变量的这个类型称为声\\明类型(declared type)。\\□ 变量的实际类型是被变量引用的对象的实际类。\\\hspace*{3pt}□ 例如o的声明类型是Object，实际类型是Geometric Object。o\\调用哪个toString()方法由o的实际类型决定。\\□ 这称为动态绑定(dynamic binding) 或为多态\\(polymorphism)}
\mRC{r7}{r7a}{3015} \mRC{r7}{r7b}{3015}

\mRN{r8a}{3140}{3489}{继承关系使一个子类继承父类的特征，并附加新特征。子类是父类的具体化（沿着继承链从祖先类到后代类，\\特征越来越具体）}
\mRN{r8b}{3140}{3610}{每个子类的实例都是父类的实例，这个特性是多态的\\重要基础，因为总可以将子类的实例传给需要父类类型\\的参数。\\使用父类对象的地方都可以使用子类的对象。这就是\\多态。简单来说，多态意味着父类型的变量可以引用\\子类型的对象。}
\mRC{r8}{r8a}{3123} \mRC{r8}{r8b}{3123}

\mRN{r9a}{3187}{3741}{Java中的每个类都继承自java.lang.Object类。如果在定\\义一个类时没有指定继承性，那么这个类的父类就被默认\\是Object。}
\mRN{r9b}{3187}{3827}{调用一个对象的toString()会返回一个描述该对象的字符\\串。它的默认实现会返回一个由该对象所属的类名、at符 号(@)以及一个表示这个对象的数组成的字符串。}
\mRN{r9c}{3187}{3901}{调用一个对象的toString()会返回一个描述该对象的字符\\串。它的默认实现会返回一个由该对象所属的类名、at符 号(@)以及一个表示这个对象的数组成的字符串。}
\foreach \c in {r9a,r9b,r9c} {\mRC{r9}{\c}{3169}}

\mRN{r10a}{3209}{3974}{\textbf{重载}是使用相同的名字但是不同的签名来定义多个方\\法。}
\mRN{r10b}{3209}{4048}{\textbf{重写}是使用相同的签名和相同的返回值类型，在子类\\中提供一个对方法的新的实现}
\mRN{r10c}{3209}{4241}{注意}
\mRN{r10c1}{3301}{4113}{方法重写发生在通过继承而产生的子类和父类中；}
\mRN{r10c2}{3301}{4167}{方法重写发生在通过继承而产生的子类和父类中；}
\mRN{r10c3}{3301}{4221}{方法重写具有同样的签名和返回值类型}
\mRN{r10c4}{3301}{4275}{方法重载具有同样的名字，但是不同的参数列表}
\mRN{r10c5}{3301}{4350}{为了避免错误，可以在子类的方法前面放一个重写\\标注：@Override，表示被标注的方法必须重写父\\类的一个方法。否则编译器报错。}
\foreach \c in {r10a,r10b,r10c} {\mRC{r10}{\c}{3192}}
\foreach \c in {r10c1,r10c2,r10c3,r10c4,r10c5} {\mRC{r10c}{\c}{3284}}

\mRN{r11a}{3033}{4435}{子类可以修改从父类中继承的方法的实现，这称为方\\法重写(method overriding)，又称为方法覆盖。}
\mRN{r11b}{3033}{4509}{重写一个方法，需要在子类中使用和父类一样的签名\\以及一样的返回值类型来对该方法进行定义。}
\mRN{r11c}{3033}{4652}{仅当实例方法是可访问时，它才能被重写。\\父类的私有方法，子类是不能重写的，否则在其子类中只\\是新添加了一个方法，并没有对其进行重写。即子类定义\\的方法与父类的私有方法没有关系。\\与实例方法一样，静态方法也能被继承。但是，静态方法\\不能被重写。如果父类中定义的静态方法在子类中被重新\\定义，属于添加新方法。在父类中定义的静态方法被隐藏。\\可以使用“父类名.静态方法名”调用隐藏的静态方法。}
\foreach \c in {r11a,r11b,r11c} {\mRC{r11}{\c}{3015}}

\mRN{r12a}{3063}{4786}{概述：关键字super是指这个super出现的类的父类。}
\mRN{r12b}{3063}{4950}{调用父类的构造方法}
\mRN{r12b1}{3274}{4849}{父类的构造方法不能被子类继承。它们被子类显式\\或隐式地调用。使用super关键字显式调用。}
\mRN{r12b2}{3274}{4923}{如果子类构造方法中没有显式地调用父类的构造方\\法，那么将自动调用父类无参构造方法。}
\mRN{r12b3}{3274}{4998}{一般情况下，最好能为每个类提供一个无参构造方法，\\以便于对该类进行扩展，同时避免错误}
\mRN{r12b3a}{3740}{4998}{子主题}
\mRN{r12b4}{3274}{5062}{关键字this是指向调用对象本身的引用名}
\mRN{r12c}{3063}{5137}{构造方法链}
\mRN{r12c1}{3207}{5137}{概念：构造一个类的实例时，将会沿着继承链依次调用所有\\父类的构造方法对该实例初始化，这些继承的构造方\\法被称为构造方法链。}
\mRN{r12d}{3063}{5222}{调用父类的普通方法}
\mRN{r12d1}{3274}{5222}{super也可以引用父类的普通方法。\\语法：super.方法名(参数);}
\foreach \c in {r12a,r12b,r12c,r12d} {\mRC{r12}{\c}{3045}}
\foreach \c in {r12b1,r12b2,r12b3,r12b4} {\mRC{r12b}{\c}{3258}}
\draw[cn] (r12b3.east) -- (r12b3a.west);
\draw[cn] (r12c.east) -- (r12c1.west);
\draw[cn] (r12d.east) -- (r12d1.west);

\mRN{r13a}{3050}{5297}{子类不是父类的一个子集，实际上，一个子类通常\\比它的父类包含更多的信息和方法。}
\mRN{r13b}{3050}{5370}{一个类应该使数据域私有化和访问器和修改器方法\\公共化。}
\mRN{r13c}{3050}{5443}{父类private修饰的私有成员变量不能被子类直接存取，\\通过父类提供的公共访问器getter/修改器setter存取。}
\mRN{r13d}{3050}{5530}{□ 继承是用来为“是关系（is-a)“ 建模。一个父类和\\它的子类之间必须存在“是关系”。但是，不是所有\\的“是关系”都该用继承来建模}
\mRN{r13e}{3050}{5626}{□ 继承是用来为“是关系（is-a)“ 建模。一个父类和\\它的子类之间必须存在“是关系”。但是，不是所有\\的“是关系”都该用继承来建模}
\mRN{r13f}{3050}{5701}{一个Java类可实现多个接口，称为多重继承。}
\foreach \c in {r13a,r13b,r13c,r13d,r13e,r13f} {\mRC{r13}{\c}{3033}}

\node[anchor=east,inner sep=0pt,text=black!22,font=\wmf\fontsize{7}{8}\selectfont] (wm) at (4030,6110) {https://blog.csdn.net/weixin\_43314519};
\end{tikzpicture}
\end{document}
